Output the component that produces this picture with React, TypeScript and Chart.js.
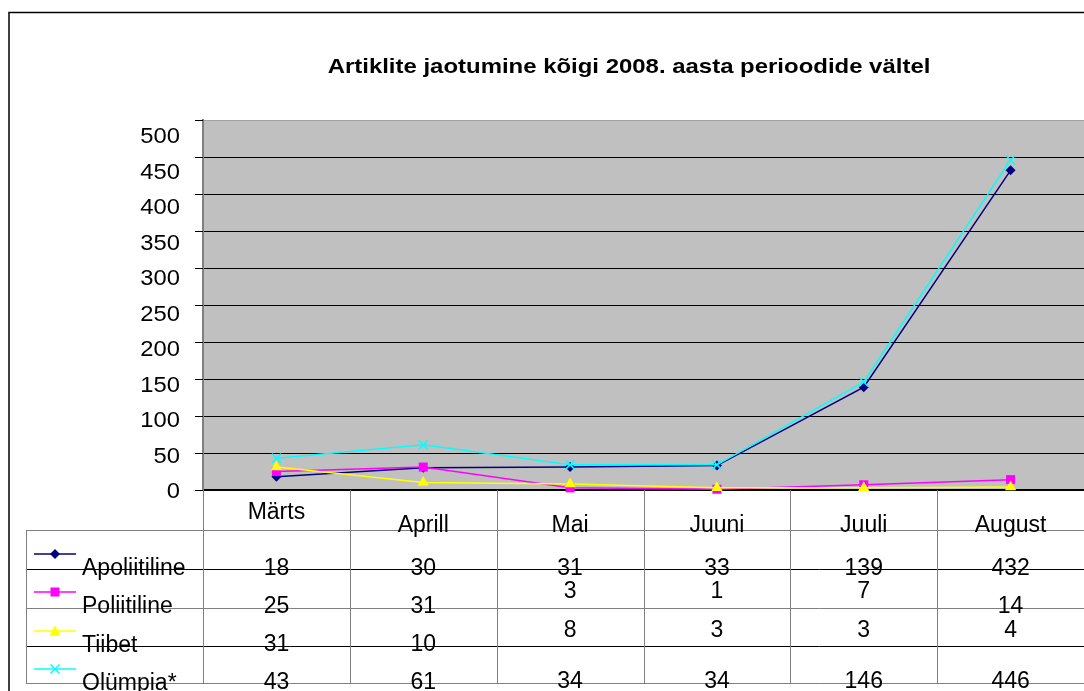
import React, { useEffect, useRef } from 'react';
import { Chart, registerables } from 'chart.js';

Chart.register(...registerables);

const TITLE = 'Artiklite jaotumine kõigi 2008. aasta perioodide vältel';
const categories = ['Märts', 'Aprill', 'Mai', 'Juuni', 'Juuli', 'August'];
const seriesNames = ['Apoliitiline', 'Poliitiline', 'Tiibet', 'Olümpia*'];
const apoliitiline = [18, 30, 31, 33, 139, 432];
const poliitiline = [25, 31, 3, 1, 7, 14];
const tiibet = [31, 10, 8, 3, 3, 4];
const olumpia = [43, 61, 34, 34, 146, 446];
const yMin = 0;
const yMax = 500;
const yStep = 50;

const FONT = '"Liberation Sans", Arial, sans-serif';

type Marker = 'diamond' | 'square' | 'triangle' | 'cross';

function drawMarker(ctx: CanvasRenderingContext2D, kind: Marker, x: number, y: number, color: string) {
  ctx.save();
  ctx.fillStyle = color;
  ctx.strokeStyle = color;
  ctx.lineWidth = 1.5;
  ctx.beginPath();
  if (kind === 'diamond') {
    ctx.moveTo(x, y - 5);
    ctx.lineTo(x + 5, y);
    ctx.lineTo(x, y + 5);
    ctx.lineTo(x - 5, y);
    ctx.closePath();
    ctx.fill();
  } else if (kind === 'square') {
    ctx.rect(x - 4.5, y - 4.5, 9, 9);
    ctx.fill();
  } else if (kind === 'triangle') {
    ctx.moveTo(x, y - 5.5);
    ctx.lineTo(x + 5.5, y + 4.5);
    ctx.lineTo(x - 5.5, y + 4.5);
    ctx.closePath();
    ctx.fill();
  } else {
    ctx.moveTo(x - 4.5, y - 4.5);
    ctx.lineTo(x + 4.5, y + 4.5);
    ctx.moveTo(x + 4.5, y - 4.5);
    ctx.lineTo(x - 4.5, y + 4.5);
    ctx.stroke();
  }
  ctx.restore();
}

export default function App() {
  const ref = useRef<HTMLCanvasElement>(null);

  useEffect(() => {
    const canvas = ref.current;
    if (!canvas) return;

    const series = [
      { name: seriesNames[0], data: apoliitiline, color: '#000080', marker: 'diamond' as Marker, style: 'rectRot', radius: 5 },
      { name: seriesNames[1], data: poliitiline, color: '#FF00FF', marker: 'square' as Marker, style: 'rect', radius: 6.4 },
      { name: seriesNames[2], data: tiibet, color: '#FFFF00', marker: 'triangle' as Marker, style: 'triangle', radius: 6.5 },
      { name: seriesNames[3], data: olumpia, color: '#00FFFF', marker: 'cross' as Marker, style: 'crossRot', radius: 6.4 },
    ];

    // layout (positions of the table / labels, not data)
    const rowLines = [530, 569, 608, 646, 683];
    const rowLineColors = ['#808080', '#000000', '#808080', '#000000', '#808080'];
    const legendLineY = [554, 592, 631, 669];
    const labelBaseline = [575, 613, 652, 690];
    const valueBaseline = [
      [575, 575, 575, 575, 575, 575],
      [613, 613, 598, 598, 598, 613],
      [651, 651, 637, 637, 637, 637],
      [689, 689, 688, 688, 688, 688],
    ];
    const headerBaseline = [519, 532, 532, 532, 532, 532];

    const excelPlugin = {
      id: 'excelLook',
      beforeDraw(chart: any) {
        const { ctx, chartArea: a } = chart;
        ctx.save();
        ctx.fillStyle = '#FFFFFF';
        ctx.fillRect(0, 0, chart.width, chart.height);
        ctx.fillStyle = '#C0C0C0';
        ctx.fillRect(a.left, a.top, a.right - a.left, a.bottom - a.top);
        ctx.restore();
      },
      afterDraw(chart: any) {
        const { ctx, chartArea: a } = chart;
        const xs = chart.scales.x;
        const ys = chart.scales.y;
        ctx.save();

        // outer frame
        ctx.strokeStyle = '#000';
        ctx.lineWidth = 1.5;
        ctx.beginPath();
        ctx.moveTo(9, chart.height);
        ctx.lineTo(9, 12.5);
        ctx.lineTo(chart.width, 12.5);
        ctx.stroke();

        // title
        ctx.fillStyle = '#000';
        ctx.font = `bold 21px ${FONT}`;
        ctx.textAlign = 'center';
        ctx.textBaseline = 'alphabetic';
        ctx.save();
        ctx.translate(629, 73);
        ctx.scale(1.14, 1);
        ctx.fillText(TITLE, 0, 0);
        ctx.restore();

        // y tick marks and labels
        ctx.font = `22px ${FONT}`;
        ctx.textAlign = 'right';
        ctx.strokeStyle = '#000';
        ctx.lineWidth = 1;
        for (let v = yMin; v <= yMax; v += yStep) {
          const py = Math.round(ys.getPixelForValue(v)) + 0.5;
          ctx.beginPath();
          ctx.moveTo(a.left - 8, py);
          ctx.lineTo(a.left, py);
          ctx.stroke();
          const base = ys.getPixelForValue(v) + 23 - (1 - v / yMax) * 15;
          ctx.save();
          ctx.translate(180, base);
          ctx.scale(1.08, 1);
          ctx.fillText(String(v), 0, 0);
          ctx.restore();
        }

        // data table grid
        const n = categories.length;
        const colW = (a.right - a.left) / n;
        ctx.lineWidth = 1;
        rowLines.forEach((ry, i) => {
          ctx.strokeStyle = rowLineColors[i];
          ctx.beginPath();
          ctx.moveTo(26, ry + 0.5);
          ctx.lineTo(chart.width, ry + 0.5);
          ctx.stroke();
        });
        ctx.strokeStyle = '#808080';
        ctx.beginPath();
        ctx.moveTo(26.5, rowLines[0]);
        ctx.lineTo(26.5, rowLines[rowLines.length - 1]);
        ctx.stroke();
        for (let i = 0; i < n; i++) {
          const bx = Math.round(a.left + i * colW) + 0.5;
          ctx.beginPath();
          ctx.moveTo(bx, a.bottom);
          ctx.lineTo(bx, rowLines[rowLines.length - 1] + 0.5);
          ctx.stroke();
        }

        // header (category labels)
        ctx.fillStyle = '#000';
        ctx.font = `23px ${FONT}`;
        ctx.textAlign = 'center';
        categories.forEach((c, i) => {
          ctx.fillText(c, xs.getPixelForValue(i), headerBaseline[i]);
        });

        // legend keys, names and values
        series.forEach((s, r) => {
          ctx.strokeStyle = s.color;
          ctx.lineWidth = 1.5;
          ctx.beginPath();
          ctx.moveTo(34, legendLineY[r]);
          ctx.lineTo(76, legendLineY[r]);
          ctx.stroke();
          drawMarker(ctx, s.marker, 55, legendLineY[r], s.color);

          ctx.fillStyle = '#000';
          ctx.textAlign = 'left';
          ctx.fillText(s.name, 82, labelBaseline[r]);
          ctx.textAlign = 'center';
          s.data.forEach((v, i) => {
            ctx.fillText(String(v), xs.getPixelForValue(i), valueBaseline[r][i]);
          });
        });

        ctx.restore();
      },
    };

    const chart = new Chart(canvas, {
      type: 'line',
      data: {
        labels: categories,
        datasets: series.map((s, i) => ({
          label: s.name,
          data: s.data,
          borderColor: s.color,
          backgroundColor: s.color,
          pointBackgroundColor: s.color,
          pointBorderColor: s.color,
          pointStyle: s.style as any,
          pointRadius: s.radius,
          pointBorderWidth: s.style === 'crossRot' ? 1.5 : 0,
          borderWidth: 1.5,
          tension: 0,
          fill: false,
          clip: false as any,
          order: series.length - i,
        })),
      },
      options: {
        responsive: false,
        animation: false,
        events: [],
        layout: { autoPadding: false, padding: { top: 120, bottom: 201, left: 0, right: 0 } },
        plugins: {
          legend: { display: false },
          title: { display: false },
          tooltip: { enabled: false },
        },
        scales: {
          x: {
            type: 'category',
            offset: true,
            grid: { display: false },
            ticks: { display: false },
            border: { display: false },
            afterFit: (s: any) => {
              s.height = 0;
            },
          },
          y: {
            min: yMin,
            max: yMax,
            ticks: { stepSize: yStep, display: false },
            grid: {
              drawTicks: false,
              color: (c: any) => (c.tick && c.tick.value === yMax ? '#A0A0A0' : '#000000'),
              lineWidth: (c: any) => (c.tick && c.tick.value === yMin ? 2 : 1),
            },
            border: { display: true, color: '#808080', width: 2 },
            afterFit: (s: any) => {
              s.width = 203;
            },
          },
        },
      },
      plugins: [excelPlugin],
    } as any);

    return () => chart.destroy();
  }, []);

  return (
    <div style={{ position: 'absolute', left: 0, top: 0, width: 1084, height: 691, background: '#fff' }}>
      <canvas ref={ref} width={1084} height={691} style={{ display: 'block', width: 1084, height: 691 }} />
    </div>
  );
}
